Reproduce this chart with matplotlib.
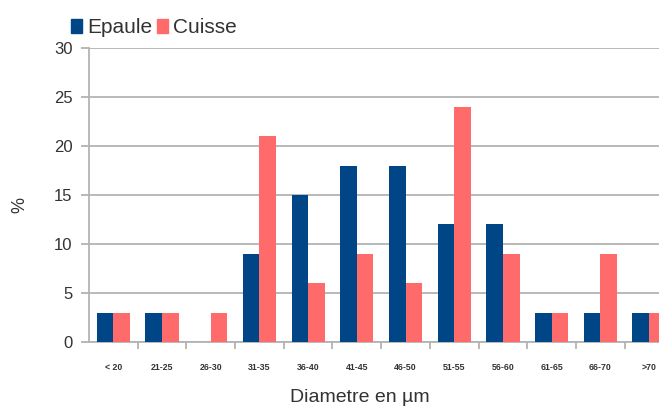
import numpy as np
import matplotlib
matplotlib.use("Agg")
from matplotlib import pyplot as plt
from matplotlib.patches import Patch

# Data
categories = ["< 20", "21-25", "26-30", "31-35", "36-40", "41-45", "46-50",
              "51-55", "56-60", "61-65", "66-70", ">70"]
epaule = [3, 3, 0, 9, 15, 18, 18, 12, 12, 3, 3, 3]
cuisse = [3, 3, 3, 21, 6, 9, 6, 24, 9, 3, 9, 3]

blue = "#004586"
red = "#ff6b6b"
grey = "#b3b3b3"
text_col = "#333333"

plt.rcParams['font.family'] = ['Liberation Sans', 'DejaVu Sans']

fig = plt.figure(figsize=(6.59, 4.09), dpi=100)
ax = fig.add_axes([89 / 659, 1 - 342 / 409, 1 - 89 / 659, (342 - 48) / 409])

x = np.arange(len(categories))
w = 0.34
ax.bar(x - w / 2, epaule, width=w, color=blue, zorder=3)
ax.bar(x + w / 2, cuisse, width=w, color=red, zorder=3)

ax.set_ylim(0, 30)
ax.set_xlim(-0.5, -0.5 + 570 / 48.7)
ax.set_yticks(range(0, 31, 5))
ax.yaxis.grid(True, color=grey, linewidth=1.3, zorder=0)
ax.set_axisbelow(True)

ax.set_xticks(x)
ax.set_xticklabels(categories, fontsize=6.3, fontweight='bold', color=text_col)
ax.set_xticks(x[:-1] + 0.5, minor=True)
ax.tick_params(axis='x', which='major', length=0, pad=15)
ax.tick_params(axis='x', which='minor', length=5, color=grey, width=1.3)
ax.tick_params(axis='y', length=6, color=grey, width=1.3, labelsize=12,
               labelcolor=text_col, pad=6)

for side in ['top', 'right']:
    ax.spines[side].set_visible(False)
for side in ['left', 'bottom']:
    ax.spines[side].set_color(grey)
    ax.spines[side].set_linewidth(1.3)

ax.set_ylabel("%", fontsize=13, color=text_col, va='center')
ax.yaxis.set_label_coords((20 - 89) / 570, (342 - 205) / 294)
ax.set_xlabel("Diametre en µm", fontsize=14, color=text_col, va='center')
ax.xaxis.set_label_coords((360 - 89) / 570, (342 - 398) / 294)

handles = [Patch(color=blue, label="Epaule"), Patch(color=red, label="Cuisse")]
fig.legend(handles=handles, loc='upper left', bbox_to_anchor=(61 / 659, 1 - 8 / 409),
           ncol=2, frameon=False, fontsize=15, handlelength=0.5, handleheight=0.65,
           handletextpad=0.25, columnspacing=0.25, borderpad=0,
           labelcolor=text_col)

plt.savefig("out.png", dpi=100)
